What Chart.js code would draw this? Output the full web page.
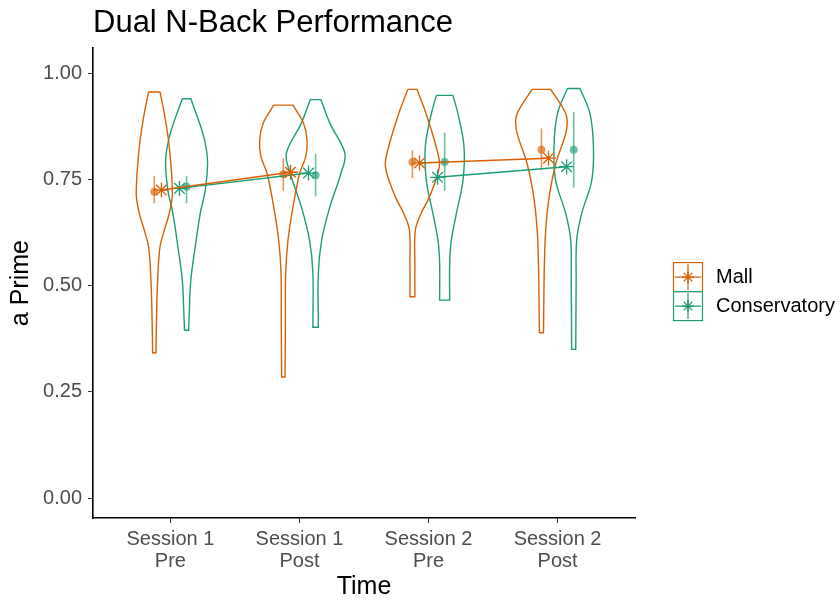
<!DOCTYPE html>
<html>
<head>
<meta charset="utf-8">
<title>Dual N-Back Performance</title>
<script src="https://cdn.jsdelivr.net/npm/chart.js@4.4.1/dist/chart.umd.min.js"></script>
<style>
  html, body { margin: 0; padding: 0; background: #fff; }
  #wrap { width: 840px; height: 600px; }
</style>
</head>
<body>
<div id="wrap"><canvas id="chart" width="840" height="600"></canvas></div>
<script>
// categories, groups and ticks
const timeLabels = [['Session 1', 'Pre'], ['Session 1', 'Post'], ['Session 2', 'Pre'], ['Session 2', 'Post']];
const groups = ['Mall', 'Conservatory'];
const groupColors = ['#D95F02', '#1B9E77'];
const yTicks = [0, 0.25, 0.5, 0.75, 1];

// means with error bars (the round points)
const mallMean = [0.721, 0.762, 0.791, 0.820];
const mallLow = [0.694, 0.723, 0.753, 0.772];
const mallHigh = [0.758, 0.800, 0.819, 0.870];
const consMean = [0.733, 0.760, 0.791, 0.820];
const consLow = [0.694, 0.710, 0.723, 0.731];
const consHigh = [0.758, 0.810, 0.860, 0.909];

// model estimates (the stars), joined pre -> post inside each session
const mallStar = [0.725, 0.767, 0.789, 0.800];
const consStar = [0.729, 0.765, 0.755, 0.780];

// violin outlines: value levels from top to bottom, half width in category units
const mallViolinLevels = [
    [0.956, 0.905, 0.827, 0.717, 0.670, 0.631, 0.591, 0.513, 0.435, 0.342],
    [0.925, 0.882, 0.842, 0.803, 0.764, 0.686, 0.607, 0.529, 0.411, 0.285],
    [0.962, 0.905, 0.827, 0.780, 0.709, 0.670, 0.631, 0.553, 0.474],
    [0.962, 0.905, 0.866, 0.787, 0.709, 0.631, 0.552, 0.474, 0.389]
];
const mallViolinWidths = [
    [0.044, 0.078, 0.116, 0.140, 0.116, 0.078, 0.044, 0.026, 0.018, 0.013],
    [0.075, 0.157, 0.184, 0.173, 0.126, 0.075, 0.036, 0.018, 0.016, 0.013],
    [0.036, 0.106, 0.184, 0.209, 0.132, 0.067, 0.023, 0.019, 0.019],
    [0.072, 0.188, 0.194, 0.111, 0.060, 0.033, 0.023, 0.019, 0.016]
];
const consViolinLevels = [
    [0.940, 0.866, 0.827, 0.787, 0.725, 0.670, 0.591, 0.513, 0.435, 0.395],
    [0.938, 0.882, 0.811, 0.764, 0.686, 0.607, 0.529, 0.402],
    [0.948, 0.905, 0.827, 0.748, 0.670, 0.607, 0.553, 0.466],
    [0.964, 0.905, 0.827, 0.748, 0.670, 0.607, 0.513, 0.350]
];
const consViolinWidths = [
    [0.033, 0.119, 0.150, 0.163, 0.145, 0.106, 0.067, 0.033, 0.021, 0.016],
    [0.041, 0.111, 0.227, 0.196, 0.111, 0.047, 0.021, 0.021],
    [0.064, 0.103, 0.150, 0.142, 0.091, 0.052, 0.039, 0.039],
    [0.049, 0.126, 0.153, 0.140, 0.062, 0.023, 0.019, 0.016]
];

const FONT = '"Liberation Sans", Arial, Helvetica, sans-serif';
Chart.defaults.font.family = FONT;

const violinDodge = 0.125;
const starDodge = 0.07;

function alpha(hex, a) {
    const n = parseInt(hex.slice(1), 16);
    return `rgba(${n >> 16}, ${(n >> 8) & 255}, ${n & 255}, ${a})`;
}

// closed outline: down the left side, up the right side.
// corner points are doubled so the flat top and bottom stay sharp
function violinPath(pos, levels, widths) {
    const left = levels.map((y, i) => ({ x: pos - widths[i], y: y }));
    const right = levels.map((y, i) => ({ x: pos + widths[i], y: y })).reverse();
    const lastL = left[left.length - 1];
    const lastR = right[right.length - 1];
    return [left[0]].concat(left, [lastL], [right[0]], right, [lastR, left[0]]);
}

// vertical segments separated by gaps
function errorBars(xs, lo, hi) {
    const pts = [];
    xs.forEach((x, i) => {
        pts.push({ x: x, y: lo[i] }, { x: x, y: hi[i] }, { x: x, y: null });
    });
    return pts;
}

// only pre/post of the same session are joined
function starLine(xs, vals) {
    return [
        { x: xs[0], y: vals[0] },
        { x: xs[1], y: vals[1] },
        { x: (xs[1] + xs[2]) / 2, y: null },
        { x: xs[2], y: vals[2] },
        { x: xs[3], y: vals[3] }
    ];
}

function groupDatasets(gi, means, lows, highs, stars, vLevels, vWidths) {
    const color = groupColors[gi];
    const sign = gi === 0 ? -1 : 1;
    const vx = timeLabels.map((_, i) => i + 1 + sign * violinDodge);
    const sx = timeLabels.map((_, i) => i + 1 + sign * starDodge);
    const sets = [];

    vx.forEach((x, i) => {
        sets.push({
            label: groups[gi] + ' violin ' + (i + 1),
            data: violinPath(x, vLevels[i], vWidths[i]),
            borderColor: color,
            borderWidth: 1.4,
            pointRadius: 0,
            tension: 0.35,
            fill: false,
            order: 3
        });
    });

    sets.push({
        label: groups[gi] + ' error',
        data: errorBars(vx, lows, highs),
        borderColor: alpha(color, 0.65),
        borderWidth: 1.6,
        pointRadius: 0,
        order: 2
    });
    sets.push({
        label: groups[gi] + ' mean',
        data: vx.map((x, i) => ({ x: x, y: means[i] })),
        showLine: false,
        pointRadius: 4,
        pointBackgroundColor: alpha(color, 0.65),
        pointBorderWidth: 0,
        order: 2
    });
    sets.push({
        label: groups[gi],
        data: starLine(sx, stars),
        borderColor: color,
        borderWidth: 1.5,
        pointStyle: 'star',
        pointRadius: 7.5,
        pointBorderColor: color,
        pointBorderWidth: 1.3,
        order: 1
    });
    return sets;
}

const datasets = [].concat(
    groupDatasets(0, mallMean, mallLow, mallHigh, mallStar, mallViolinLevels, mallViolinWidths),
    groupDatasets(1, consMean, consLow, consHigh, consStar, consViolinLevels, consViolinWidths)
);

// legend drawn by hand: box key with line, error bar and star
const groupLegend = {
    id: 'groupLegend',
    afterDraw(chart) {
        const ctx = chart.ctx;
        const size = 29;
        const x0 = chart.chartArea.right + 38;
        const top = (chart.chartArea.top + chart.chartArea.bottom) / 2 - size + 8;
        groups.forEach((name, i) => {
            const col = groupColors[i];
            const y = top + i * size;
            ctx.save();
            ctx.strokeStyle = col;
            ctx.lineWidth = 1.2;
            ctx.strokeRect(x0 + 0.5, y + 0.5, size, size);
            ctx.beginPath();
            ctx.moveTo(x0 + 2, y + size / 2 + 0.5);
            ctx.lineTo(x0 + size - 1, y + size / 2 + 0.5);
            ctx.moveTo(x0 + size / 2 + 0.5, y + 2);
            ctx.lineTo(x0 + size / 2 + 0.5, y + size - 1);
            ctx.stroke();
            ctx.lineWidth = 1.3;
            Chart.helpers.drawPoint(ctx, { pointStyle: 'star', radius: 6, borderWidth: 1.3 }, x0 + size / 2 + 0.5, y + size / 2 + 0.5);
            ctx.fillStyle = '#000';
            ctx.font = '20px ' + FONT;
            ctx.textBaseline = 'middle';
            ctx.textAlign = 'left';
            ctx.fillText(name, x0 + size + 14, y + size / 2 + 1);
            ctx.restore();
        });
    }
};

new Chart(document.getElementById('chart'), {
    type: 'line',
    data: { datasets: datasets },
    options: {
        responsive: false,
        animation: false,
        layout: { padding: { left: 0, right: 205, top: 0, bottom: 0 } },
        plugins: {
            legend: { display: false },
            tooltip: { enabled: false },
            title: {
                display: true,
                text: 'Dual N-Back Performance',
                align: 'start',
                fullSize: false,
                color: '#000',
                font: { size: 31, weight: 'normal', lineHeight: 1.2 },
                padding: { top: 5, bottom: 6 }
            }
        },
        scales: {
            x: {
                type: 'linear',
                min: 0.4,
                max: 4.6,
                afterBuildTicks: (scale) => { scale.ticks = timeLabels.map((_, i) => ({ value: i + 1 })); },
                afterFit: (scale) => { scale.height = 82; },
                ticks: {
                    autoSkip: false,
                    maxRotation: 0,
                    color: '#4D4D4D',
                    padding: 6,
                    font: { size: 20, lineHeight: 1.08 },
                    callback: (v) => timeLabels[Math.round(v) - 1]
                },
                grid: { drawOnChartArea: false, drawTicks: true, tickLength: 5, color: '#333' },
                border: { display: true, color: '#000', width: 1.6 },
                title: {
                    display: true,
                    text: 'Time',
                    color: '#000',
                    font: { size: 25, lineHeight: 1 },
                    padding: { top: 0, bottom: 0 }
                }
            },
            y: {
                min: -0.047,
                max: 1.059,
                afterBuildTicks: (scale) => { scale.ticks = yTicks.map(v => ({ value: v })); },
                afterFit: (scale) => { scale.width = 93; },
                ticks: {
                    color: '#4D4D4D',
                    padding: 6,
                    font: { size: 20 },
                    callback: (v) => Number(v).toFixed(2)
                },
                grid: { drawOnChartArea: false, drawTicks: true, tickLength: 5, color: '#333' },
                border: { display: true, color: '#000', width: 1.6 },
                title: {
                    display: true,
                    text: 'a Prime',
                    color: '#000',
                    font: { size: 25, lineHeight: 1 },
                    padding: { top: 9, bottom: 0 }
                }
            }
        }
    },
    plugins: [groupLegend]
});
</script>
</body>
</html>
